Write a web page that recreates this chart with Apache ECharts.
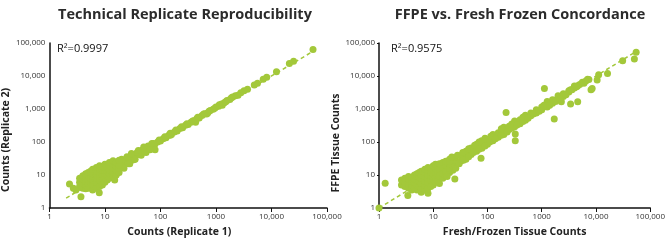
<!DOCTYPE html>
<html>
<head>
<meta charset="utf-8">
<script src="https://cdn.jsdelivr.net/npm/echarts@6/dist/echarts.min.js"></script>
<style>
html, body { margin: 0; padding: 0; background: #fff; }
#chart { width: 668px; height: 243px; }
</style>
</head>
<body>
<div id="chart"></div>
<script>
// tick labels (the x axis writes 1000 without a comma, the y axis with one)
const xTickLabels = ['1', '10', '100', '1000', '10,000', '100,000'];
const yTickLabels = ['1', '10', '100', '1,000', '10,000', '100,000'];

const replicateR2 = 'R²=0.9997';
const concordanceR2 = 'R²=0.9575';

// Replicate 1 vs Replicate 2 counts
const replicatePairs = [
	// high-count tail
	[56000, 64000], [25000, 28000], [21000, 24000], [12300, 13500], [8200, 9100], [7100, 8000],
	[5600, 6000], [4900, 5300], [3700, 4000], [3200, 3600],
	// main band
	[2800, 3100], [2240, 2500], [2000, 2300], [1780, 1950], [1580, 1800], [1410, 1550], [1260, 1420],
	[1120, 1220], [1000, 1150], [890, 980], [790, 900], [710, 760], [630, 720], [560, 640], [500, 530],
	[450, 510], [400, 440], [355, 400], [316, 340], [282, 320], [251, 270], [224, 255], [200, 215],
	[178, 200], [158, 170], [141, 160], [126, 135], [112, 126], [100, 108], [89, 100], [79, 84],
	[71, 80], [63, 66], [56, 64], [50, 53], [45, 52], [40, 42], [35, 40], [32, 33], [28, 33], [25, 26],
	[22, 26], [20, 20], [18, 21],
	[80, 58], [60, 75], [42, 52], [30, 28], [24, 30], [150, 185], [430, 400], [1300, 1300], [680, 700],
	[2500, 2600], [1900, 2200], [1500, 1650], [1150, 1350], [950, 1050], [750, 850], [600, 700],
	[470, 560], [380, 430], [300, 360], [240, 290], [190, 230], [150, 160], [120, 145], [95, 115],
	[75, 90], [60, 68], [48, 58], [38, 48], [30, 38], [27, 30], [23, 24], [21, 28], [19, 17],
	[26, 22], [33, 29], [45, 40], [55, 48],
	[22, 16], [28, 22], [35, 30], [17, 25], [20, 30], [25, 36], [30, 45], [40, 55], [50, 70],
	[65, 58], [70, 90],
	// low-count cloud
	[3.5, 4.5], [3.5, 6], [3.5, 8],
	[4, 4], [4, 5.5], [4, 7.5], [4, 9.5],
	[4.5, 3.8], [4.5, 5], [4.5, 6.5], [4.5, 9], [4.5, 11],
	[5, 4], [5, 5.5], [5, 7], [5, 10], [5, 12],
	[5.5, 4.5], [5.5, 6], [5.5, 8], [5.5, 13],
	[6, 3.5], [6, 5], [6, 7], [6, 9], [6, 11], [6, 15],
	[7, 4], [7, 6], [7, 8], [7, 10], [7, 13], [7, 17],
	[8, 4.5], [8, 7], [8, 9], [8, 12], [8, 15], [8, 19],
	[9, 5], [9, 8], [9, 10], [9, 14], [9, 18],
	[10, 6], [10, 8.5], [10, 11], [10, 13], [10, 16], [10, 21],
	[11, 7], [11, 10], [11, 12.5], [11, 17],
	[12, 8], [12, 11], [12, 14], [12, 19], [12, 24],
	[14, 9], [14, 12], [14, 16], [14, 21], [14, 27],
	[15, 7], [16, 10], [16, 14], [16, 18], [16, 24],
	[18, 12], [18, 16], [18, 20], [18, 28],
	[2.3, 5.3], [2.7, 4], [3.7, 2.2], [7.9, 2.9], [3, 3.5]
];

// Fresh/Frozen vs FFPE counts
const concordancePairs = [
	[1, 1], [1.3, 5.6], [3.4, 2.4], [8, 2.8],
	// low-count cloud
	[2.6, 5], [2.6, 7],
	[3, 4.5], [3, 6], [3, 8],
	[3.5, 4], [3.5, 5.5], [3.5, 7.5], [3.5, 9],
	[4, 3.5], [4, 5], [4, 6.5], [4, 8.5],
	[4.5, 4], [4.5, 6], [4.5, 7.5], [4.5, 10],
	[5, 3.5], [5, 5], [5, 7], [5, 9], [5, 11],
	[5.5, 4.5], [5.5, 6.5], [5.5, 8.5], [5.5, 12],
	[6, 3], [6, 4], [6, 5.5], [6, 8], [6, 10], [6, 13],
	[7, 3.5], [7, 5], [7, 6.5], [7, 9], [7, 12], [7, 15],
	[8, 4], [8, 6], [8, 8], [8, 10], [8, 14], [8, 17],
	[9, 4.5], [9, 7], [9, 9.5], [9, 12], [9, 16],
	[10, 5], [10, 7], [10, 9], [10, 11], [10, 14], [10, 19],
	[11, 6], [11, 8.5], [11, 12], [11, 16], [11, 21],
	[12, 7], [12, 10], [12, 13], [12, 18],
	[13, 5.5], [13, 9], [13, 15], [13, 22],
	[15, 8], [15, 11], [15, 17], [15, 24],
	[17, 10], [17, 13], [17, 20], [17, 26],
	[20, 12], [20, 16], [20, 22], [20, 30],
	[23, 14], [23, 19], [23, 27],
	// main band
	[25, 7.5], [25, 20], [25, 28], [25, 34],
	[32, 26], [32, 38],
	[40, 30], [40, 45], [40, 52],
	[50, 42], [50, 58], [50, 66],
	[63, 52], [63, 70], [63, 85],
	[76, 32], [78, 110], [79, 65], [79, 95],
	[100, 85], [100, 115],
	[126, 110], [126, 140], [126, 170],
	[158, 140], [158, 190],
	[200, 170], [200, 230], [200, 280],
	[220, 780],
	[251, 240], [251, 300],
	[316, 290], [316, 380], [316, 430], [325, 174], [325, 110],
	[398, 360], [398, 470],
	[500, 460], [500, 600], [500, 650],
	[630, 620], [630, 760],
	[794, 760], [794, 950],
	[1000, 950], [1000, 1150], [1120, 4150],
	[1260, 1150], [1260, 1500], [1260, 1700],
	[1580, 1500], [1580, 1900], [1700, 500],
	[2000, 2200], [2000, 2500], [2300, 1660],
	[2500, 2400], [2500, 2900],
	[3160, 3300], [3160, 3600], [3400, 3800], [3400, 1420],
	[4000, 4300], [4000, 5000], [4600, 5100], [4600, 1660],
	[5000, 5500], [5600, 6500], [6000, 6000],
	[7000, 8000], [7400, 7900], [8100, 3800], [8500, 4200],
	[10500, 7600], [11200, 11000], [16300, 12000],
	[31000, 29000], [51000, 33000], [55000, 52000],
	[18, 9], [20, 26], [22, 35], [26, 16], [28, 40], [30, 22], [35, 48], [36, 28], [45, 36],
	[45, 62], [55, 48], [58, 80], [70, 60], [70, 100], [90, 75], [90, 130], [110, 100], [115, 150],
	[140, 125], [180, 160], [180, 250], [230, 200], [280, 260], [280, 350], [350, 330], [450, 420],
	[450, 560], [560, 520], [700, 700], [900, 850], [1100, 1300], [1400, 1300], [1800, 1700],
	[2200, 2000], [2800, 2700], [3600, 3800], [4400, 4700], [6500, 7000]
];

// dashed y = x guide lines
const replicateTrend = [[2, 2], [56000, 56000]];
const concordanceTrend = [[1, 1], [60000, 60000]];

const green = '#a3c83a';
const fontFamily = 'Open Sans';

function logAxis(gridIndex, labels, name, namePadding, isY, extra) {
	return Object.assign({
		gridIndex: gridIndex,
		type: 'log',
		logBase: 10,
		min: 1,
		max: 100000,
		axisLine: { lineStyle: { color: '#111', width: 1.5 } },
		axisTick: { show: !isY, length: 4, lineStyle: { color: '#111', width: 1 } },
		splitLine: { show: false },
		minorTick: { show: false },
		axisLabel: {
			fontSize: 8,
			fontFamily: fontFamily,
			color: '#333',
			margin: isY ? 4 : 5,
			formatter: function (v) {
				return labels[Math.round(Math.log10(v))];
			},
		},
		name: name,
		nameLocation: 'middle',
		nameGap: isY ? 25 : 19,
		nameTextStyle: {
			fontFamily: fontFamily,
			fontWeight: 'bold',
			fontSize: 10.5,
			color: '#222',
			padding: namePadding,
		},
	}, extra || {});
}

const chart = echarts.init(document.getElementById('chart'));
chart.setOption({
	animation: false,
	backgroundColor: '#fff',
	title: [
		{
			text: 'Technical Replicate Reproducibility',
			left: 185, top: 7, padding: 0, textAlign: 'center',
			textStyle: { fontFamily: fontFamily, fontWeight: 'bold', fontSize: 14.5, color: '#2b2b2b' },
		},
		{
			text: 'FFPE vs. Fresh Frozen Concordance',
			left: 520, top: 7, padding: 0, textAlign: 'center',
			textStyle: { fontFamily: fontFamily, fontWeight: 'bold', fontSize: 14.5, color: '#2b2b2b' },
		},
		{
			text: replicateR2,
			left: 57, top: 43, padding: 0,
			textStyle: { fontFamily: fontFamily, fontWeight: 'normal', fontSize: 11, color: '#111' },
		},
		{
			text: concordanceR2,
			left: 391, top: 43, padding: 0,
			textStyle: { fontFamily: fontFamily, fontWeight: 'normal', fontSize: 11, color: '#111' },
		},
	],
	grid: [
		{ left: 48, right: 341, top: 43, bottom: 35 },
		{ left: 379, right: 11, top: 43, bottom: 35 },
	],
	xAxis: [
		logAxis(0, xTickLabels, 'Counts (Replicate 1)', [0, 18, 0, 0], false),
		logAxis(1, xTickLabels, 'Fresh/Frozen Tissue Counts', 0, false),
	],
	yAxis: [
		logAxis(0, yTickLabels, 'Counts (Replicate 2)', [0, 29, 0, 0], true),
		logAxis(1, yTickLabels, 'FFPE Tissue Counts', [0, 35, 0, 0], true, {
			axisTick: { show: true, length: 2, lineStyle: { color: '#111' } },
		}),
	],
	series: [
		{
			type: 'line', xAxisIndex: 0, yAxisIndex: 0,
			data: replicateTrend, symbol: 'none', z: 1,
			lineStyle: { color: green, width: 1.5, type: [4, 3] },
		},
		{
			type: 'scatter', xAxisIndex: 0, yAxisIndex: 0,
			data: replicatePairs, symbolSize: 7, clip: false, z: 2,
			itemStyle: { color: green, opacity: 1 },
		},
		{
			type: 'line', xAxisIndex: 1, yAxisIndex: 1,
			data: concordanceTrend, symbol: 'none', z: 1,
			lineStyle: { color: green, width: 1.5, type: [4, 3] },
		},
		{
			type: 'scatter', xAxisIndex: 1, yAxisIndex: 1,
			data: concordancePairs, symbolSize: 7, clip: false, z: 2,
			itemStyle: { color: green, opacity: 1 },
		},
	],
});
</script>
</body>
</html>
